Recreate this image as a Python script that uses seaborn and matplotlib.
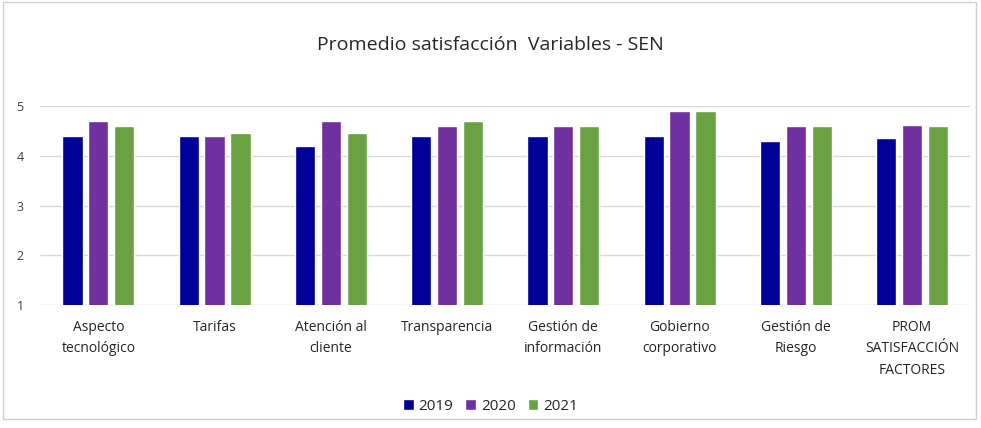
import pandas as pd
import seaborn as sns
import matplotlib.pyplot as plt
from matplotlib.patches import Rectangle

# data
categorias = ["Aspecto\ntecnológico", "Tarifas", "Atención al\ncliente", "Transparencia",
              "Gestión de\ninformación", "Gobierno\ncorporativo", "Gestión de\nRiesgo",
              "PROM\nSATISFACCIÓN\nFACTORES"]
anios = ["2019", "2020", "2021"]
v2019 = [4.4, 4.4, 4.2, 4.4, 4.4, 4.4, 4.3, 4.35]
v2020 = [4.7, 4.4, 4.7, 4.6, 4.6, 4.9, 4.6, 4.63]
v2021 = [4.6, 4.47, 4.47, 4.7, 4.6, 4.9, 4.6, 4.6]
colores = ["#000099", "#7030A0", "#6AA142"]

df = pd.DataFrame({
    "Variable": categorias * 3,
    "Año": [a for a in anios for _ in categorias],
    "Valor": v2019 + v2020 + v2021,
})

sns.set_style("white")
plt.rcParams["font.family"] = ["Open Sans", "DejaVu Sans"]

fig = plt.figure(figsize=(9.81, 4.28), dpi=100)
ax = fig.add_axes([0.041, 0.287, 0.948, 0.465])

sns.barplot(data=df, x="Variable", y="Valor", hue="Año", palette=colores,
            width=0.67, gap=0.22, ax=ax, saturation=1, legend=True)

ax.set_ylim(1, 5)
ax.set_yticks([1, 2, 3, 4, 5])
ax.yaxis.grid(True, color="#d9d9d9", linewidth=1)
ax.set_axisbelow(True)
for s in ax.spines.values():
    s.set_visible(False)
ax.set_xlabel("")
ax.set_ylabel("")
ax.tick_params(axis="y", labelsize=9, colors="#404040", length=0, pad=12)
ax.tick_params(axis="x", labelsize=10, colors="#262626", length=0, pad=11)
for t in ax.get_xticklabels():
    t.set_linespacing(1.55)

fig.text(0.5, 0.895, "Promedio satisfacción  Variables - SEN", ha="center", va="center",
         fontsize=14, color="#262626")

ax.legend(loc="center", bbox_to_anchor=(0.5, 0.05), bbox_transform=fig.transFigure,
          ncol=3, frameon=False, fontsize=11, handlelength=0.7, handleheight=0.7,
          handletextpad=0.3, columnspacing=0.8)

# chart frame
fig.patches.append(Rectangle((0.003, 0.02), 0.992, 0.975, transform=fig.transFigure,
                             fill=False, edgecolor="#d0d0d0", linewidth=1))

fig.savefig("out.png", dpi=100)
